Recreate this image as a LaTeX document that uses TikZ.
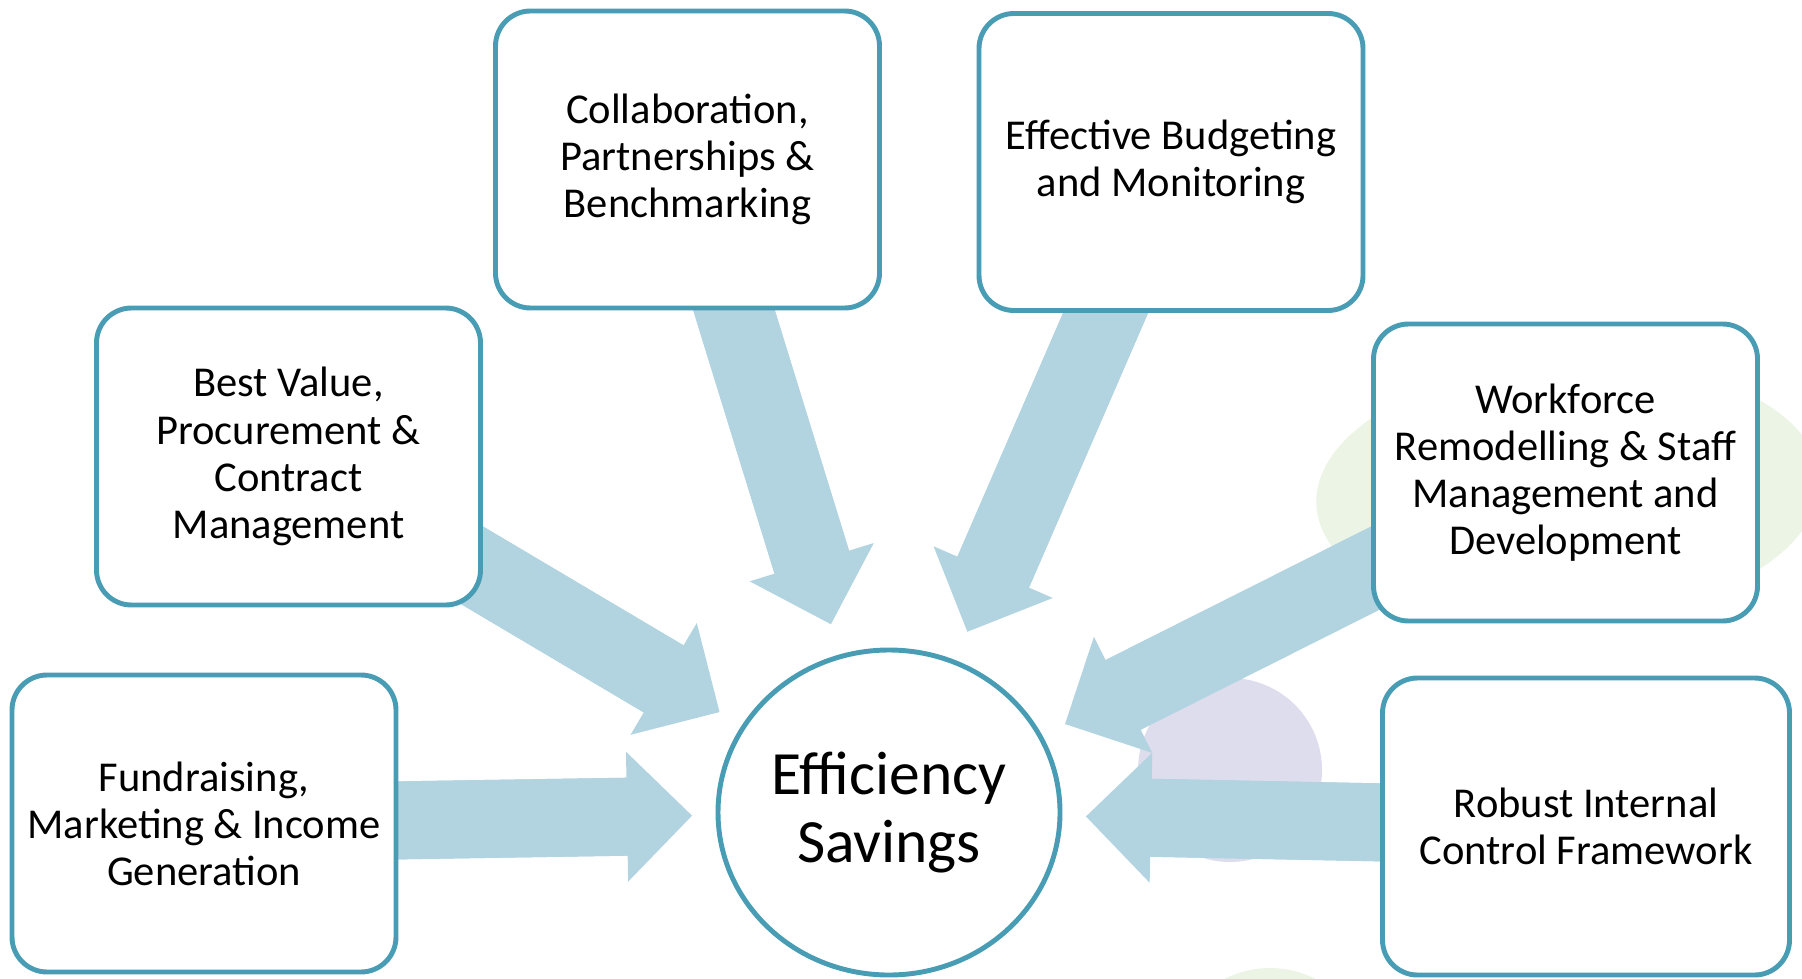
\documentclass[tikz,border=0pt]{standalone}
\usepackage{fontspec}
\setmainfont{Carlito}
\usetikzlibrary{arrows.meta,shapes.geometric}
\definecolor{savteal}{HTML}{489DB5}
\definecolor{savflow}{HTML}{B2D4E0}
\definecolor{savlilac}{HTML}{DEDDED}
\definecolor{savmint}{HTML}{EBF4E5}
\pgfdeclarelayer{background}
\pgfsetlayers{background,main}

\begin{document}
\begin{tikzpicture}[
  area/.style={rounded corners=0.35cm, draw=savteal, line width=1.4pt, fill=white, align=center, minimum width=3.84cm, minimum height=2.97cm, inner sep=2pt, font=\fontsize{12.1}{13.4}\selectfont},
  goal/.style={ellipse, draw=savteal, line width=1.4pt, fill=white, align=center, minimum width=3.42cm, minimum height=3.25cm, inner sep=0pt, font=\fontsize{17.5}{19.2}\selectfont},
  flow/.style={savflow, line width=0.78cm, shorten >=1.97cm, -{Triangle[length=0.65cm, width=1.3cm, line width=0pt 0]},
    postaction={draw, -, shorten >=2.5cm}}
]
\useasboundingbox (0,0) rectangle (18.02,9.78);

% pale blobs behind everything
\begin{pgfonlayer}{background}
  \fill[savmint, rotate around={3:(15.68,4.86)}] (15.68,4.86) ellipse[x radius=2.52cm, y radius=1.30cm];
  \fill[savlilac] (12.30,2.08) circle[radius=0.92cm];
  \fill[savmint] (12.70,-0.90) circle[radius=1.0cm];
\end{pgfonlayer}

\node[goal] (eff) at (8.89,1.655) {Efficiency\\Savings};

\node[area] (collab) at (6.875,8.185) {Collaboration,\\Partnerships \&\\Benchmarking};
\node[area] (budget) at (11.71,8.16) {Effective Budgeting\\and Monitoring};
\node[area] (value) at (2.885,5.215) {Best Value,\\Procurement \&\\Contract\\Management};
\node[area] (workforce) at (15.655,5.055) {Workforce\\Remodelling \& Staff\\Management and\\Development};
\node[area] (fund) at (2.04,1.545) {Fundraising,\\Marketing \& Income\\Generation};
\node[area, minimum width=4.07cm] (control) at (15.86,1.515) {Robust Internal\\Control Framework};

% block arrows run under the boxes towards the centre
\begin{pgfonlayer}{background}
  \foreach \src in {collab,budget,value,workforce,fund,control}
    \draw[flow] (\src.center) -- (eff.center);
\end{pgfonlayer}

\end{tikzpicture}
\end{document}
